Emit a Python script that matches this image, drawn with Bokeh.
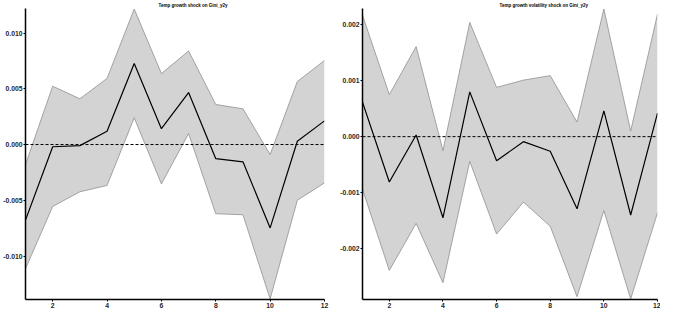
from bokeh.plotting import figure
from bokeh.layouts import row
from bokeh.models import Range1d, Span, FixedTicker
from bokeh.embed import file_html
from bokeh.resources import INLINE

horizon = [1, 2, 3, 4, 5, 6, 7, 8, 9, 10, 11, 12]

# Panel 1: Temp growth shock on Gini_y2y
g_mid = [-0.00678, -0.0002, -0.0001, 0.00119, 0.00726, 0.00142, 0.00466,
         -0.00127, -0.00155, -0.00748, 0.00029, 0.00212]
g_up = [-0.0018, 0.00523, 0.0041, 0.00593, 0.01215, 0.00636, 0.00839,
        0.00359, 0.0032, -0.0009, 0.00565, 0.00754]
g_lo = [-0.01113, -0.00556, -0.00424, -0.00367, 0.0024, -0.00353, 0.00099,
        -0.00621, -0.0063, -0.01384, -0.005, -0.00344]
g_ticks = [-0.010, -0.005, 0.000, 0.005, 0.010]
g_labels = {-0.010: "-0.010", -0.005: "-0.005", 0.0: "0.000", 0.005: "0.005", 0.010: "0.010"}

# Panel 2: Temp growth volatility shock on Gini_y2y
v_mid = [0.000618, -0.00081, 0.00003, -0.00145, 0.0008, -0.00043, -0.00009,
         -0.00026, -0.00129, 0.00046, -0.0014, 0.00042]
v_up = [0.00217, 0.00075, 0.00161, -0.00025, 0.00204, 0.00088, 0.00101,
        0.00109, 0.00026, 0.00228, 0.0001, 0.00219]
v_lo = [-0.00094, -0.00239, -0.00155, -0.00261, -0.00044, -0.00174, -0.00117,
        -0.0016, -0.00286, -0.00132, -0.0029, -0.00136]
v_ticks = [-0.002, -0.001, 0.000, 0.001, 0.002]
v_labels = {-0.002: "-0.002", -0.001: "-0.001", 0.0: "0.000", 0.001: "0.001", 0.002: "0.002"}

x_ticks = [2, 4, 6, 8, 10, 12]

FONT = "Liberation Sans"


def panel(title, mid, up, lo, yr, yticks, ylabels, border_left, border_right, title_shift):
    p = figure(width=330, height=310, output_backend="svg", toolbar_location=None,
               x_range=Range1d(1, 12), y_range=Range1d(*yr),
               min_border_left=border_left, min_border_right=border_right,
               min_border_top=8, min_border_bottom=10)
    p.outline_line_color = None
    p.xgrid.visible = False
    p.ygrid.visible = False
    p.background_fill_color = "white"

    p.title.text = title
    p.title.text_font = FONT
    p.title.text_font_style = "bold"
    p.title.text_font_size = "4.5px"
    p.title.text_color = "black"
    p.title.align = "left"
    p.title.offset = title_shift
    p.title.standoff = 1

    p.varea(x=horizon, y1=lo, y2=up, fill_color="#d3d3d3", fill_alpha=1.0)
    p.line(horizon, up, line_color="#9a9a9a", line_width=0.9)
    p.line(horizon, lo, line_color="#9a9a9a", line_width=0.9)
    p.line(horizon, mid, line_color="black", line_width=1.2)
    p.add_layout(Span(location=0, dimension="width", line_color="black",
                      line_width=1, line_dash="3 2"))

    for ax in (p.xaxis[0], p.yaxis[0]):
        ax.axis_line_color = "black"
        ax.axis_line_width = 1.5
        ax.major_tick_line_color = "black"
        ax.major_tick_line_width = 1
        ax.major_tick_in = 0
        ax.major_tick_out = 2
        ax.minor_tick_line_color = None
        ax.major_label_text_font = FONT
        ax.major_label_text_font_style = "bold"
        ax.major_label_text_font_size = "6.8px"
        ax.major_label_text_color = "#262626"
        ax.major_label_standoff = 1
    p.xaxis.ticker = FixedTicker(ticks=x_ticks)
    p.yaxis.ticker = FixedTicker(ticks=yticks)
    p.yaxis.major_label_overrides = ylabels
    return p


p1 = panel("Temp growth shock on Gini_y2y", g_mid, g_up, g_lo, (-0.0139, 0.0122),
           g_ticks, g_labels, 24, 6, 133)
p2 = panel("Temp growth volatility shock on Gini_y2y", v_mid, v_up, v_lo,
           (-0.00291, 0.00229), v_ticks, v_labels, 32, 3, 137)

layout = row(p1, p2)
open("out.html", "w").write(file_html(layout, INLINE))
